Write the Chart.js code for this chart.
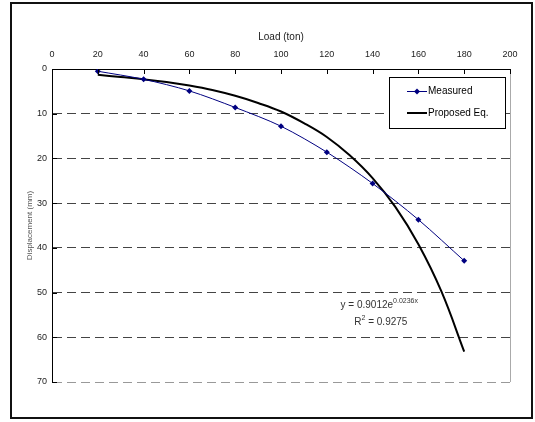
<!DOCTYPE html>
<html lang="en">
<head>
    <meta charset="UTF-8">
    <title>Load vs Displacement</title>
    <script src="https://cdn.jsdelivr.net/npm/chart.js"></script>
    <style>
        body { margin: 0; background: #fff; }
        #wrap { width: 535px; height: 422px; }
    </style>
</head>
<body>
<div id="wrap"><canvas id="loadChart" width="535" height="422"></canvas></div>

<script>
    // measured load test points
    const measuredLoad = [20, 40, 60, 80, 100, 120, 140, 160, 180];
    const measuredDisp = [0.5, 2.3, 4.9, 8.6, 12.8, 18.6, 25.6, 33.7, 42.9];

    // proposed equation curve
    const curveLoad = [20, 30, 40, 50, 60, 70, 80, 90, 100, 110, 120, 130, 140, 150, 160, 170, 180];
    const curveDisp = [1.3, 1.8, 2.3, 2.9, 3.7, 4.7, 6.0, 7.6, 9.5, 12.1, 15.2, 19.3, 24.4, 30.9, 39.2, 49.7, 63.2];

    const xTicks = [0, 20, 40, 60, 80, 100, 120, 140, 160, 180, 200];
    const yTicks = [0, 10, 20, 30, 40, 50, 60, 70];

    const FONT = "'Liberation Sans', Arial, sans-serif";

    function toPoints(xs, ys) {
        return xs.map((x, i) => ({ x: x, y: ys[i] }));
    }

    // frame, inside tick marks, right edge, legend box and equation text
    const decorations = {
        id: 'decorations',
        afterDraw(chart) {
            const ctx = chart.ctx;
            const area = chart.chartArea;
            const xs = chart.scales.x;
            const ys = chart.scales.y;
            ctx.save();

            // outer frame
            ctx.strokeStyle = '#111';
            ctx.lineWidth = 2;
            ctx.strokeRect(11, 3, 521, 415);

            // right edge of plot
            ctx.strokeStyle = '#aaa';
            ctx.lineWidth = 1;
            ctx.beginPath();
            ctx.moveTo(area.right + 0.5, area.top);
            ctx.lineTo(area.right + 0.5, area.bottom);
            ctx.stroke();

            // tick marks pointing inward
            ctx.strokeStyle = '#000';
            ctx.beginPath();
            xTicks.forEach(v => {
                const px = Math.round(xs.getPixelForValue(v)) + 0.5;
                ctx.moveTo(px, area.top);
                ctx.lineTo(px, area.top + 5);
            });
            yTicks.forEach(v => {
                const py = Math.round(ys.getPixelForValue(v)) + 0.5;
                ctx.moveTo(area.left, py);
                ctx.lineTo(area.left + 5, py);
            });
            ctx.stroke();

            // legend
            ctx.fillStyle = '#fff';
            ctx.fillRect(389, 77, 116, 51);
            ctx.strokeStyle = '#000';
            ctx.strokeRect(389.5, 77.5, 116, 51);

            ctx.strokeStyle = '#000080';
            ctx.beginPath();
            ctx.moveTo(407, 91.5);
            ctx.lineTo(427, 91.5);
            ctx.stroke();
            ctx.fillStyle = '#000080';
            ctx.beginPath();
            ctx.moveTo(417, 88.5);
            ctx.lineTo(420, 91.5);
            ctx.lineTo(417, 94.5);
            ctx.lineTo(414, 91.5);
            ctx.closePath();
            ctx.fill();

            ctx.strokeStyle = '#000';
            ctx.lineWidth = 2;
            ctx.beginPath();
            ctx.moveTo(407, 113);
            ctx.lineTo(427, 113);
            ctx.stroke();

            ctx.fillStyle = '#000';
            ctx.font = '10px ' + FONT;
            ctx.textBaseline = 'middle';
            ctx.textAlign = 'left';
            ctx.fillText('Measured', 428, 91);
            ctx.fillText('Proposed Eq.', 428, 113);

            // trend line equation
            const ex = xs.getPixelForValue(126);
            const ey = ys.getPixelForValue(52.8);
            ctx.fillStyle = '#333';
            ctx.font = '10px ' + FONT;
            ctx.fillText('y = 0.9012e', ex, ey);
            let w = ctx.measureText('y = 0.9012e').width;
            ctx.font = '7px ' + FONT;
            ctx.fillText('0.0236x', ex + w, ey - 4);

            const rx = xs.getPixelForValue(132);
            const ry = ys.getPixelForValue(56.6);
            ctx.font = '10px ' + FONT;
            ctx.fillText('R', rx, ry);
            w = ctx.measureText('R').width;
            ctx.font = '7px ' + FONT;
            ctx.fillText('2', rx + w, ry - 4);
            const w2 = ctx.measureText('2').width;
            ctx.font = '10px ' + FONT;
            ctx.fillText(' = 0.9275', rx + w + w2, ry);

            ctx.restore();
        }
    };

    const ctx = document.getElementById('loadChart').getContext('2d');
    new Chart(ctx, {
        type: 'line',
        data: {
            datasets: [
                {
                    label: 'Measured',
                    data: toPoints(measuredLoad, measuredDisp),
                    borderColor: '#000080',
                    backgroundColor: '#000080',
                    borderWidth: 1,
                    pointStyle: 'rectRot',
                    pointRadius: 3,
                    pointBorderWidth: 0,
                    tension: 0.3
                },
                {
                    label: 'Proposed Eq.',
                    data: toPoints(curveLoad, curveDisp),
                    borderColor: '#000',
                    borderWidth: 2,
                    pointRadius: 0,
                    tension: 0.4
                }
            ]
        },
        options: {
            responsive: false,
            animation: false,
            layout: { padding: { left: 0, top: 0, right: 25, bottom: 40 } },
            plugins: {
                legend: { display: false },
                tooltip: { enabled: false }
            },
            scales: {
                x: {
                    type: 'linear',
                    position: 'top',
                    min: 0,
                    max: 200,
                    afterBuildTicks: s => { s.ticks = xTicks.map(v => ({ value: v })); },
                    afterFit: s => { s.height = 69; },
                    grid: { display: false, drawTicks: false },
                    border: { color: '#000', width: 1 },
                    ticks: { padding: 9, color: '#222', font: { family: FONT, size: 9 } },
                    title: {
                        display: true,
                        text: 'Load (ton)',
                        color: '#222',
                        font: { family: FONT, size: 10 },
                        padding: { top: 31, bottom: 0 }
                    }
                },
                y: {
                    type: 'linear',
                    reverse: true,
                    min: 0,
                    max: 70,
                    afterBuildTicks: s => { s.ticks = yTicks.map(v => ({ value: v })); },
                    afterFit: s => { s.width = 52; },
                    grid: {
                        drawTicks: false,
                        color: c => c.tick.value === 0 ? 'rgba(0,0,0,0)' : (c.tick.value === 70 ? '#999' : '#444'),
                        lineWidth: 1
                    },
                    border: { color: '#000', width: 1, dash: [9, 5] },
                    ticks: { padding: 5, color: '#222', font: { family: FONT, size: 9 } },
                    title: {
                        display: true,
                        text: 'Displacement (mm)',
                        color: '#555',
                        font: { family: FONT, size: 8 },
                        padding: { top: 25, bottom: 0 }
                    }
                }
            }
        },
        plugins: [decorations]
    });
</script>
</body>
</html>
